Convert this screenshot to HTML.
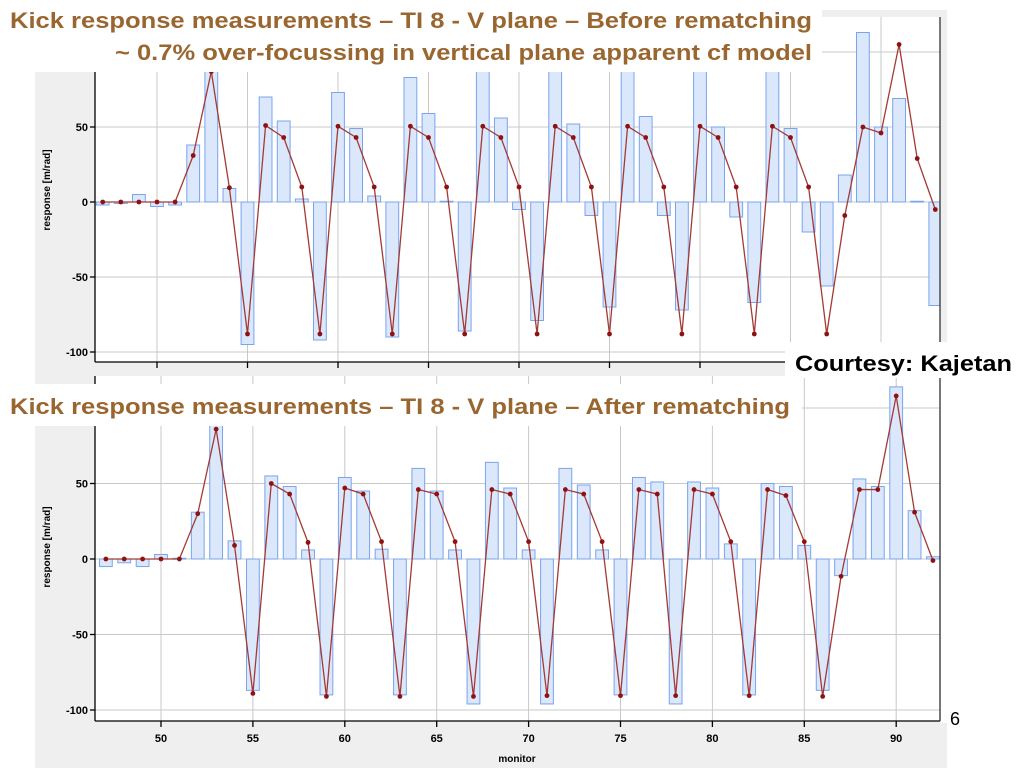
<!DOCTYPE html>
<html><head><meta charset="utf-8"><style>
body{margin:0;background:#fff;width:1024px;height:768px;overflow:hidden}
svg{display:block;font-family:"Liberation Sans",Arial,sans-serif}
</style></head><body>
<svg id="s" width="1024" height="768" viewBox="0 0 1024 768" xmlns="http://www.w3.org/2000/svg"></svg>
<script>
// Top chart (before rematching), monitors 47..93
const topMonitors = [47,48,49,50,51,52,53,54,55,56,57,58,59,60,61,62,63,64,65,66,67,68,69,70,71,72,73,74,75,76,77,78,79,80,81,82,83,84,85,86,87,88,89,90,91,92,93];
const topMeasured = [-2,-1,5,-3,-2,38,130,9,-95,70,54,2,-92,73,49,4,-90,83,59,0.5,-86,130,56,-5,-79,130,52,-9,-70,130,57,-9,-72,130,50,-10,-67,130,49,-20,-56,18,113,50,69,0.5,-69];
const topModel = [0,0,0,0,0,31,87,9.5,-88,51,43,10,-88,50.5,43,10,-88,50.5,43,10,-88,50.5,43,10,-88,50.5,43,10,-88,50.5,43,10,-88,50.5,43,10,-88,50.5,43,10,-88,-9,50,46,105,29,-5];
// Bottom chart (after rematching), monitors 47..92
const botMonitors = [47,48,49,50,51,52,53,54,55,56,57,58,59,60,61,62,63,64,65,66,67,68,69,70,71,72,73,74,75,76,77,78,79,80,81,82,83,84,85,86,87,88,89,90,91,92];
const botMeasured = [-5,-2.5,-5,3,0.5,31,100,12,-87,55,48,6,-90,54,45,6.5,-90,60,45,6,-96,64,47,6,-96,60,49,6,-90,54,51,-96,51,47,10,-90,50,48,9,-87,-11,53,48,114,32,1.5];
const botModel = [0,0,0,0,0,30,86,9,-89,50,43,11,-91,47,43,11.5,-91,46,43,11.5,-91,46,43,11.5,-90.5,46,43,11.5,-90.5,46,43,-90.5,46,43,11.5,-90.5,46,42,11.5,-91,-11.5,46,46,108,31,-1];
const xTicks = [50,55,60,65,70,75,80,85,90];
const yTicks = [-100,-50,0,50,100];

const NS="http://www.w3.org/2000/svg", S=document.getElementById('s');
function mk(tag,attrs,parent){const e=document.createElementNS(NS,tag);for(const k in attrs)e.setAttribute(k,attrs[k]);(parent||S).appendChild(e);return e;}

function chart(cfg){
  const g=mk('g',{});
  
  
  const xS=m=>cfg.x0+(m-cfg.m0)*cfg.dx;
  const yS=v=>cfg.y0-v*cfg.dy;
  const L=95,R=940;
  const pr=mk('rect',{x:L,y:cfg.top,width:R-L,height:cfg.bottom-cfg.top,fill:'#fff'},g);
  
  
  const cid='c'+cfg.name;
  const cp=mk('clipPath',{id:cid},g);
  mk('rect',{x:L,y:cfg.top,width:R-L,height:cfg.bottom-cfg.top},cp);
  const grid=mk('g',{stroke:'#c8c8c8','stroke-width':1,'clip-path':'url(#'+cid+')'},g);
  
  
  xTicks.forEach(t=>mk('line',{x1:xS(t),x2:xS(t),y1:cfg.top,y2:cfg.bottom},grid));
  yTicks.forEach(t=>mk('line',{x1:L,x2:R,y1:yS(t),y2:yS(t)},grid));
  const bars=mk('g',{'clip-path':'url(#'+cid+')'},g);
  
  
  cfg.mon.forEach((m,i)=>{
    const v=cfg.meas[i],y1=yS(Math.max(v,0)),y2=yS(Math.min(v,0));
    const b=mk('rect',{x:xS(m)-6.4,y:y1,width:12.8,height:Math.max(y2-y1,0.8),fill:'#dbe7fb',stroke:'#7aa4ee','stroke-width':1},bars);
    
    
  });
  const pts=cfg.mon.map((m,i)=>xS(m)+','+yS(cfg.model[i])).join(' ');
  const ln=mk('polyline',{points:pts,fill:'none',stroke:'#a33a34','stroke-width':1.3,'clip-path':'url(#'+cid+')'},g);
  
  
  cfg.mon.forEach((m,i)=>{
    const c=mk('circle',{cx:xS(m),cy:yS(cfg.model[i]),r:2.4,fill:'#8e1212'},g);
    
    
  });
  const ax=mk('g',{stroke:'#000','stroke-width':1.3},g);
  
  
  mk('line',{x1:L,x2:L,y1:cfg.top,y2:cfg.bottom},ax);
  mk('line',{x1:L,x2:R,y1:cfg.bottom,y2:cfg.bottom},ax);
  mk('line',{x1:R,x2:R,y1:cfg.top,y2:cfg.bottom,stroke:'#333'},ax);
  xTicks.forEach(t=>mk('line',{x1:xS(t),x2:xS(t),y1:cfg.bottom,y2:cfg.bottom+6},ax));
  yTicks.forEach(t=>{ if(yS(t)>cfg.top){mk('line',{x1:L-5,x2:L,y1:yS(t),y2:yS(t)},ax);
    const tx=mk('text',{x:L-7,y:yS(t)+4,'text-anchor':'end','font-size':11,'font-weight':'bold',fill:'#000'},g);
    tx.textContent=t;
    
    }});
  if(cfg.xlabels){xTicks.forEach(t=>{
    const tx=mk('text',{x:xS(t),y:cfg.bottom+21,'text-anchor':'middle','font-size':11,'font-weight':'bold',fill:'#000'},g);
    tx.textContent=t;
    
    });
    const xt=mk('text',{x:517,y:762,'text-anchor':'middle','font-size':10,'font-weight':'bold'},g);
    xt.textContent='monitor';
    
    
  }
  const yt=mk('text',{x:0,y:0,'text-anchor':'middle','font-size':10,'font-weight':'bold',transform:'translate(50,'+cfg.ytc+') rotate(-90)'},g);
  yt.textContent='response [m/rad]';
  
  
}
// background panels
mk('rect',{x:35,y:10,width:912,height:366,fill:'#efefef'});
mk('rect',{x:35,y:376,width:912,height:392,fill:'#efefef'});
chart({name:'chart-before',mon:topMonitors,meas:topMeasured,model:topModel,x0:157,m0:50,dx:18.1,y0:202,dy:1.5,top:17,bottom:362,ytc:190,xlabels:false});
chart({name:'chart-after',mon:botMonitors,meas:botMeasured,model:botModel,x0:161,m0:50,dx:18.38,y0:559,dy:1.51,top:376,bottom:721,ytc:547,xlabels:true});
// white page areas right of bottom plot
mk('rect',{x:941,y:376,width:83,height:347,fill:'#fff'});
mk('rect',{x:948,y:0,width:76,height:376,fill:'#fff'});
// titles
mk('rect',{x:0,y:0,width:822,height:72,fill:'#fff'});
mk('rect',{x:0,y:384,width:802,height:42,fill:'#fff'});
mk('rect',{x:785,y:342,width:239,height:36,fill:'#fff'});
function txt(s,a,name){const t=mk('text',a);t.textContent=s;return t;}
const tc='#9a6630';
txt('Kick response measurements – TI 8 - V plane – Before rematching',{x:10,y:28,'font-size':22,'font-weight':'bold',fill:tc,textLength:802,lengthAdjust:'spacingAndGlyphs'},'top-title-line1');
txt('~ 0.7% over-focussing in vertical plane apparent cf model',{x:115,y:60,'font-size':22,'font-weight':'bold',fill:tc,textLength:697,lengthAdjust:'spacingAndGlyphs'},'top-title-line2');
txt('Kick response measurements – TI 8 - V plane – After rematching',{x:10,y:414,'font-size':22,'font-weight':'bold',fill:tc,textLength:780,lengthAdjust:'spacingAndGlyphs'},'bottom-title');
txt('Courtesy: Kajetan',{x:795,y:371,'font-size':22,'font-weight':'bold',fill:'#000',textLength:217,lengthAdjust:'spacingAndGlyphs'},'courtesy-note');
txt('6',{x:950,y:725,'font-size':18,fill:'#000'},'slide-number');
</script>
</body></html>
